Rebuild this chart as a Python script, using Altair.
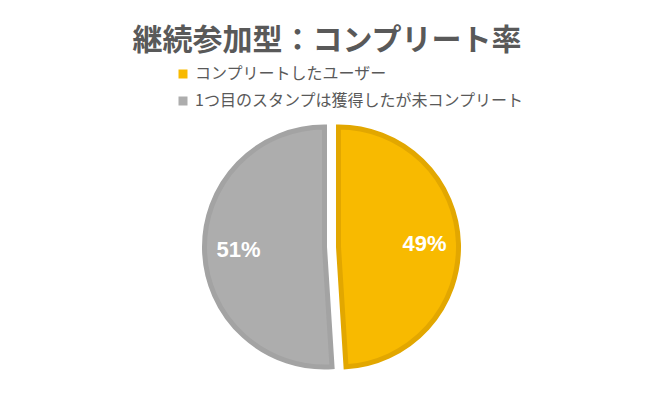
import altair as alt
import pandas as pd

categories = ["コンプリートしたユーザー", "1つ目のスタンプは獲得したが未コンプリート"]
values = [49, 51]
order = [0, 1]
fills = ["#F8BA00", "#ADADAD"]
strokes = ["#E2A700", "#A3A3A3"]

df = pd.DataFrame({"category": categories, "value": values, "order": order})

base = (
    alt.Chart(df)
    .transform_joinaggregate(total="sum(value)")
    .transform_window(cum="sum(value)", sort=[alt.SortField("order")], frame=[None, 0])
    .transform_calculate(
        start="(datum.cum - datum.value) / datum.total",
        end="datum.cum / datum.total",
        mid="(datum.cum - datum.value / 2) / datum.total",
        label="format(datum.value / datum.total, '.0%')",
    )
)

theta_scale = alt.Scale(domain=[0, 1], range=[0, 6.283185307179586])
color_scale = alt.Scale(domain=categories, range=fills)
stroke_scale = alt.Scale(domain=categories, range=strokes)

centers_x = [330.5, 316.5]
CY = 179

layers = []
for cat, cx in zip(categories, centers_x):
    sub = base.transform_filter(alt.datum.category == cat)
    arc = sub.mark_arc(radius=120, strokeWidth=5, strokeJoin="miter").encode(
        theta=alt.Theta("start:Q", scale=theta_scale),
        theta2="end:Q",
        fill=alt.Fill("category:N", scale=color_scale, sort=categories,
                      legend=alt.Legend(title=None)),
        stroke=alt.Stroke("category:N", scale=stroke_scale, legend=None),
        x=alt.value(cx),
        y=alt.value(CY),
    )
    txt = sub.mark_text(
        radius=86, font="Liberation Sans", fontWeight="bold", fontSize=22,
        color="white", align="center", baseline="middle",
    ).encode(
        theta=alt.Theta("mid:Q", scale=theta_scale),
        text="label:N",
        x=alt.value(cx),
        y=alt.value(CY),
    )
    layers += [arc, txt]

chart = (
    alt.layer(*layers)
    .properties(
        width=638,
        height=318,
        padding={"left": 0, "right": 0, "top": 60, "bottom": 0},
        autosize="none",
        background="white",
        title=alt.TitleParams(
            text="継続参加型：コンプリート率",
            font="Noto Sans CJK JP",
            fontSize=30,
            fontWeight="bold",
            color="#595959",
            anchor="middle",
            frame="group",
            offset=10,
        ),
    )
    .configure_view(stroke=None)
    .configure_legend(
        orient="none",
        legendX=167,
        legendY=-2,
        direction="vertical",
        symbolType="square",
        symbolSize=81,
        symbolStrokeWidth=0,
        labelFont="Noto Sans CJK JP",
        labelFontSize=16,
        labelColor="#595959",
        labelOffset=4,
        labelLimit=500,
        rowPadding=11,
    )
)

chart.save("out.html", embed_options={"renderer": "svg", "actions": False})
